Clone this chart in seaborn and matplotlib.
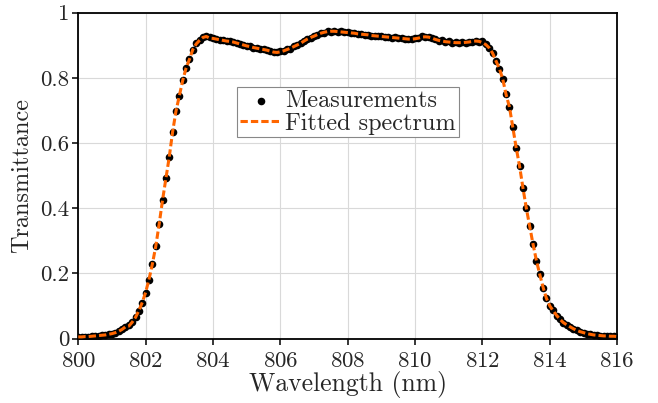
import numpy as np
import pandas as pd
import matplotlib
matplotlib.use('Agg')
import matplotlib.pyplot as plt
import seaborn as sns

# measurement grid (nm), one sample every 0.1 nm
wavelength = np.round(800 + 0.1 * np.arange(161), 1)

measured = [
    0.005, 0.005, 0.006, 0.006, 0.007, 0.008, 0.009, 0.010, 0.011, 0.013,
    0.015, 0.018, 0.022, 0.028, 0.036,
    # rising edge 801.5 - 804.0
    0.040, 0.051, 0.066, 0.085, 0.110, 0.140, 0.180, 0.228, 0.285, 0.350,
    0.426, 0.492, 0.556, 0.633, 0.698, 0.745, 0.793, 0.831, 0.858, 0.886,
    0.906, 0.916, 0.925, 0.927, 0.924, 0.922,
    # plateau 804.1 - 812.4
    0.920, 0.916, 0.917, 0.913, 0.913, 0.909, 0.908, 0.903, 0.902, 0.897,
    0.897, 0.892, 0.892, 0.888, 0.888, 0.884, 0.883, 0.878, 0.879, 0.881,
    0.882, 0.888, 0.890, 0.897, 0.900, 0.907, 0.912, 0.920, 0.923, 0.929,
    0.932, 0.938, 0.939, 0.943, 0.942, 0.944, 0.942, 0.943, 0.940, 0.941,
    0.937, 0.938, 0.934, 0.935, 0.932, 0.933, 0.929, 0.930, 0.927, 0.928,
    0.925, 0.926, 0.923, 0.924, 0.921, 0.922, 0.919, 0.920, 0.918, 0.921,
    0.921, 0.927, 0.924, 0.926, 0.921, 0.919, 0.913, 0.916, 0.911, 0.912,
    0.908, 0.910, 0.906, 0.909, 0.907, 0.911, 0.909, 0.914, 0.911, 0.913,
    0.903, 0.891, 0.877, 0.851,
    # falling edge 812.5 - 816.0
    0.828, 0.798, 0.750, 0.710, 0.649, 0.585, 0.531, 0.462, 0.402, 0.344,
    0.291, 0.239, 0.198, 0.156, 0.124, 0.099, 0.086, 0.070, 0.060, 0.048,
    0.042, 0.035, 0.030, 0.025, 0.021, 0.018, 0.015, 0.013, 0.011, 0.010,
    0.009, 0.008, 0.008, 0.007, 0.007, 0.006,
]

# fitted spectrum on the same grid
fitted = [
    0.005, 0.005, 0.006, 0.006, 0.007, 0.008, 0.009, 0.010, 0.011, 0.013,
    0.015, 0.018, 0.022, 0.028, 0.036,
    0.038, 0.050, 0.065, 0.086, 0.111, 0.142, 0.182, 0.229, 0.283, 0.351,
    0.424, 0.491, 0.557, 0.634, 0.698, 0.745, 0.792, 0.830, 0.857, 0.887,
    0.904, 0.915, 0.924, 0.927, 0.922, 0.921,
    0.919, 0.917, 0.915, 0.913, 0.912, 0.910, 0.907, 0.904, 0.901, 0.898,
    0.896, 0.893, 0.891, 0.889, 0.887, 0.885, 0.882, 0.879, 0.878, 0.880,
    0.883, 0.887, 0.891, 0.896, 0.901, 0.906, 0.913, 0.919, 0.924, 0.928,
    0.933, 0.937, 0.940, 0.942, 0.943, 0.943, 0.942, 0.941, 0.940, 0.939,
    0.938, 0.937, 0.935, 0.934, 0.933, 0.932, 0.930, 0.929, 0.928, 0.927,
    0.926, 0.925, 0.924, 0.923, 0.922, 0.921, 0.920, 0.919, 0.919, 0.920,
    0.922, 0.925, 0.926, 0.925, 0.922, 0.918, 0.915, 0.913, 0.911, 0.910,
    0.909, 0.908, 0.908, 0.908, 0.909, 0.910, 0.912, 0.913, 0.912, 0.908,
    0.902, 0.892, 0.876, 0.852,
    0.829, 0.797, 0.749, 0.711, 0.648, 0.586, 0.530, 0.463, 0.401, 0.345,
    0.290, 0.240, 0.197, 0.157, 0.123, 0.100, 0.085, 0.071, 0.059, 0.049,
    0.042, 0.036, 0.030, 0.025, 0.021, 0.018, 0.015, 0.013, 0.011, 0.010,
    0.009, 0.008, 0.008, 0.007, 0.007, 0.006,
]

x_ticks = [800, 802, 804, 806, 808, 810, 812, 814, 816]
y_ticks = [0, 0.2, 0.4, 0.6, 0.8, 1]
y_tick_labels = ['0', '0.2', '0.4', '0.6', '0.8', '1']

df = pd.DataFrame({'wl': wavelength, 'meas': measured, 'fit': fitted})

sns.set_style('ticks')
plt.rcParams['font.family'] = 'serif'
plt.rcParams['font.serif'] = ['cmr10', 'DejaVu Serif']
plt.rcParams['axes.formatter.use_mathtext'] = True
plt.rcParams['mathtext.fontset'] = 'cm'

fig, ax = plt.subplots(figsize=(6.58, 4.03), dpi=100)
fig.subplots_adjust(left=0.119, right=0.938, bottom=0.160, top=0.9685)

sns.scatterplot(data=df, x='wl', y='meas', ax=ax, color='black', s=30,
                linewidth=0, label='Measurements', zorder=3)
sns.lineplot(data=df, x='wl', y='fit', ax=ax, color='#ff6600', lw=2.2,
             linestyle=(0, (2.4, 1.0)), label='Fitted spectrum', zorder=4)

ax.set_xlim(800, 816)
ax.set_ylim(0, 1)
ax.set_xticks(x_ticks)
ax.set_yticks(y_ticks)
ax.set_yticklabels(y_tick_labels)
ax.grid(True, color='#d9d9d9', linewidth=0.8)
ax.set_axisbelow(True)

for sp in ax.spines.values():
    sp.set_linewidth(1.3)
    sp.set_color('black')
ax.tick_params(axis='both', direction='out', length=4.5, width=1.3,
               labelsize=16.5)
ax.tick_params(axis='x', pad=5)
ax.tick_params(axis='y', pad=2)

ax.set_xlabel('Wavelength (nm)', fontsize=18.5, labelpad=0)
ax.set_ylabel('Transmittance', fontsize=17.5, labelpad=5)

leg = ax.legend(loc='center', bbox_to_anchor=(0.5, 0.694), fontsize=17.5,
                frameon=True, fancybox=False, framealpha=1, edgecolor='#888888',
                borderpad=0.12, labelspacing=0.0, handlelength=1.7,
                handletextpad=0.15, borderaxespad=0)
leg.get_frame().set_linewidth(0.8)

fig.savefig('out.png', dpi=100)
